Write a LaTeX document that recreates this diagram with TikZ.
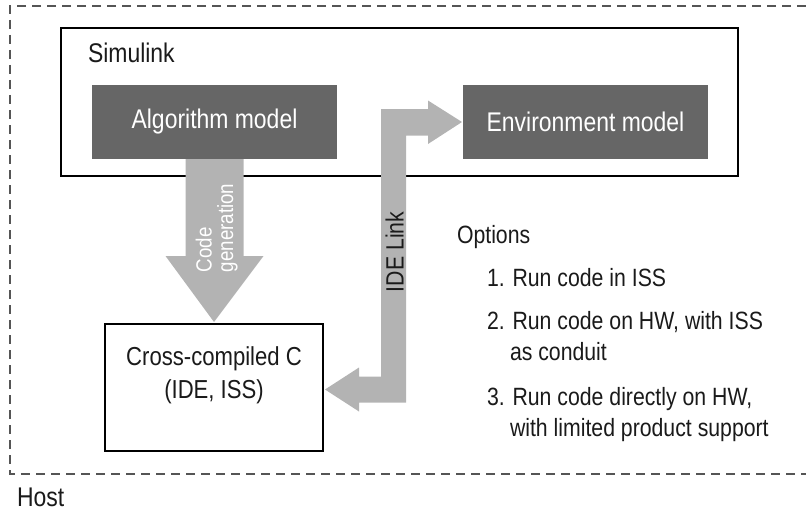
\documentclass[tikz,border=0pt]{standalone}
\usepackage{fontspec}
\setmainfont{Liberation Sans}[FakeStretch=0.85]
\usetikzlibrary{calc}
\definecolor{darkbox}{HTML}{666666}
\definecolor{arrowgray}{HTML}{B3B3B3}
\definecolor{dashgray}{HTML}{555555}
\definecolor{inktext}{HTML}{1A1A1A}
\begin{document}
\begin{tikzpicture}[x=1pt,y=-1pt,
  every node/.style={inner sep=0pt, outer sep=0pt},
  modelbox/.style={fill=darkbox, text=white, minimum width=245pt, minimum height=74pt, font=\fontsize{27}{32}\selectfont},
  framebox/.style={draw=black, line width=1.2pt},
  lbl/.style={font=\fontsize{27}{32}\selectfont, text=inktext},
  opt/.style={font=\fontsize{25}{30}\selectfont, anchor=base west, text=inktext},
  blockarrow/.style={fill=arrowgray},
  hostline/.style={draw=dashgray, line width=1.2pt, dash pattern=on 9pt off 6pt}
]
\useasboundingbox (0,0) rectangle (806,511);

% Host dashed frame (open on the right, runs off the picture)
\coordinate (hTR) at (806,6);
\coordinate (hTL) at (10,6);
\coordinate (hBL) at (10,474);
\coordinate (hBR) at (806,474);
\draw[hostline] (hTR) -- (hTL) -- (hBL) -- (hBR);

% Simulink frame and model blocks
\node[framebox, minimum width=677pt, minimum height=148pt] (sim) at (399.5,102) {};
\node[modelbox] (alg) at (214.5,122) {Algorithm model};
\node[modelbox] (env) at (585.5,122) {Environment model};

% Cross-compiled C box
\node[framebox, minimum width=218pt, minimum height=127pt] (cc) at (214,387.5) {};

% Code generation block arrow
\fill[blockarrow] ($(alg.south)+(-29,0)$) -- ($(alg.south)+(29,0)$) -- ($(alg.south)+(29,97)$)
  -- ($(alg.south)+(49,97)$) -- ($(cc.north)+(0,-2)$) -- ($(alg.south)+(-49,97)$)
  -- ($(alg.south)+(-29,97)$) -- cycle;

% IDE Link double-headed block arrow
\coordinate (ideA) at ($(env.west)+(-1,0)$);
\coordinate (ideB) at ($(cc.east)+(2,2)$);
\fill[blockarrow] (ideA) -- (428,144) -- (428,135.5) -- (406,135.5) -- (406,402.5)
  -- (359,402.5) -- (359,411.5) -- (ideB) -- (359,367.5) -- (359,376.5)
  -- (381,376.5) -- (381,109) -- (428,109) -- (428,100.5) -- cycle;

% Labels
\node[lbl, anchor=base west] (simlbl) at (88,63) {Simulink};
\node[lbl, font=\fontsize{26}{31}\selectfont, anchor=base] (cc1) at (214,365.7) {Cross-compiled C};
\node[lbl, font=\fontsize{26}{31}\selectfont, anchor=base] (cc2) at (214,398.3) {(IDE, ISS)};
\node[lbl, anchor=base west] (host) at (17,506) {Host};
\node[font=\fontsize{25}{30}\selectfont, text=inktext, rotate=90, anchor=base west] (idelbl) at (403.5,292) {IDE Link};
\node[font=\fontsize{22}{26}\selectfont, text=white, rotate=90, anchor=base west] (cg1) at (211.5,272) {Code};
\node[font=\fontsize{22}{26}\selectfont, text=white, rotate=90, anchor=base west] (cg2) at (233,272) {generation};

% Options list
\node[opt] (optt) at (457,243) {Options};
\node[opt] (o1) at (487,286.7) {1. Run code in ISS};
\node[opt] (o2a) at (487,329.3) {2. Run code on HW, with ISS};
\node[opt] (o2b) at (510,360.7) {as conduit};
\node[opt] (o3a) at (487,405) {3. Run code directly on HW,};
\node[opt] (o3b) at (510,436) {with limited product support};
\end{tikzpicture}
\end{document}
